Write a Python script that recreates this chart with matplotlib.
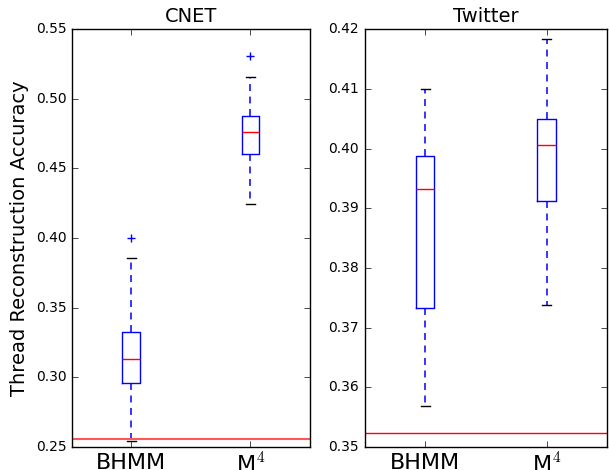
import matplotlib
matplotlib.use("Agg")
import matplotlib.pyplot as plt

methods = ["BHMM", "M$^4$"]

# box stats: low whisker, q1, median, q3, high whisker, outliers
cnet_whislo = [0.254, 0.4245]
cnet_q1 = [0.296, 0.460]
cnet_med = [0.313, 0.476]
cnet_q3 = [0.3325, 0.4875]
cnet_whishi = [0.3855, 0.5155]
cnet_fliers = [[0.400], [0.5305]]
cnet_baseline = 0.2555

tw_whislo = [0.3569, 0.3738]
tw_q1 = [0.3733, 0.3912]
tw_med = [0.3932, 0.4006]
tw_q3 = [0.3987, 0.4049]
tw_whishi = [0.4100, 0.4183]
tw_fliers = [[], []]
tw_baseline = 0.3523


def stats(lo, q1, med, q3, hi, fl):
	out = []
	for i in range(len(methods)):
		out.append({"whislo": lo[i], "q1": q1[i], "med": med[i], "q3": q3[i],
					"whishi": hi[i], "fliers": fl[i], "label": methods[i]})
	return out


def main():
	plt.style.use("classic")
	fig = plt.figure(figsize=(6.09, 4.70), dpi=100, facecolor="white")
	ax1 = fig.add_axes([0.118, 0.049, 0.391, 0.889])
	ax2 = fig.add_axes([0.599, 0.049, 0.398, 0.889])

	flier = dict(marker="+", markeredgecolor="blue", markersize=6)
	whisk = dict(color="blue", linestyle="--", linewidth=1.1, dashes=(5, 4))

	ax1.bxp(stats(cnet_whislo, cnet_q1, cnet_med, cnet_q3, cnet_whishi, cnet_fliers),
			flierprops=flier, whiskerprops=whisk)
	ax1.axhline(cnet_baseline, color="#ff5555", lw=1.5)
	ax1.set_ylim(0.25, 0.55)
	ax1.set_yticks([0.25, 0.30, 0.35, 0.40, 0.45, 0.50, 0.55])
	ax1.set_yticklabels(["%.2f" % v for v in ax1.get_yticks()], fontsize=10)
	ax1.set_title("CNET", fontsize=14)
	ax1.set_ylabel("Thread Reconstruction Accuracy", fontsize=14)

	ax2.bxp(stats(tw_whislo, tw_q1, tw_med, tw_q3, tw_whishi, tw_fliers),
			flierprops=flier, whiskerprops=whisk)
	ax2.axhline(tw_baseline, color="red", lw=1)
	ax2.set_ylim(0.35, 0.42)
	ax2.set_yticks([0.35, 0.36, 0.37, 0.38, 0.39, 0.40, 0.41, 0.42])
	ax2.set_yticklabels(["%.2f" % v for v in ax2.get_yticks()], fontsize=10)
	ax2.set_title("Twitter", fontsize=14)

	for ax in (ax1, ax2):
		ax.set_xlim(0.5, 2.5)
		ax.set_xticklabels(methods, fontsize=16)

	fig.savefig("out.png", dpi=100, facecolor="white")


if __name__ == "__main__":
	main()
